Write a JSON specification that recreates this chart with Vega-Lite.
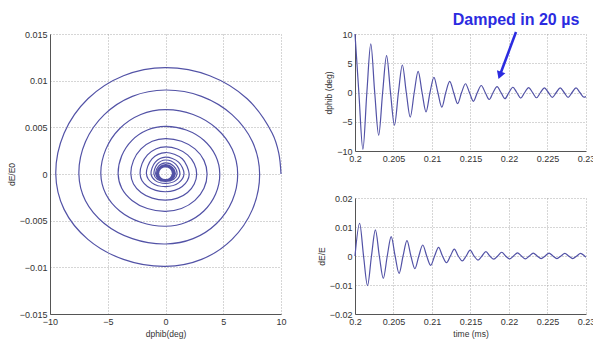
{
  "$schema": "https://vega.github.io/schema/vega-lite/v6.json",
  "padding": {"left": 7, "top": 12, "right": 5, "bottom": 5},
  "background": "white",
  "config": {
    "view": {"stroke": null},
    "axis": {
      "labelFont": "Liberation Sans", "labelFontSize": 9, "labelColor": "#333",
      "titleFont": "Liberation Sans", "titleFontSize": 8.5, "titleFontWeight": "normal", "titleColor": "#333",
      "domainColor": "#555", "ticks": false, "labelPadding": 3, "titlePadding": 3,
      "gridColor": "#999", "gridDash": [1, 2], "gridOpacity": 0.8,
      "labelFlush": false, "labelOverlap": false
    },
    "line": {"stroke": "#5252a6", "strokeWidth": 1.2}
  },
  "datasets": {
    "phase": [
      {"i":0,"x":10,"y":0},{"i":0.5,"x":9.81,"y":0.00222},{"i":1,"x":9.24,"y":0.00437},{"i":2,"x":7.07,"y":0.00806},{"i":3,"x":3.83,"y":0.01053},{"i":4,"x":0,"y":0.0114},
      {"i":5,"x":-3.64,"y":0.01053},{"i":6,"x":-6.72,"y":0.00806},{"i":7,"x":-8.78,"y":0.00437},{"i":8,"x":-9.5,"y":0},
      {"i":9,"x":-8.78,"y":-0.00379},{"i":10,"x":-6.72,"y":-0.007},{"i":11,"x":-3.64,"y":-0.00915},{"i":12,"x":0,"y":-0.0099},
      {"i":13,"x":3.12,"y":-0.00915},{"i":14,"x":5.76,"y":-0.007},{"i":15,"x":7.53,"y":-0.00379},{"i":16,"x":8.15,"y":0},
      {"i":17,"x":7.53,"y":0.00345},{"i":18,"x":5.76,"y":0.00636},{"i":19,"x":3.12,"y":0.00832},{"i":20,"x":0,"y":0.009},
      {"i":21,"x":-2.87,"y":0.00832},{"i":22,"x":-5.3,"y":0.00636},{"i":23,"x":-6.93,"y":0.00345},{"i":24,"x":-7.5,"y":0},
      {"i":25,"x":-6.93,"y":-0.00287},{"i":26,"x":-5.3,"y":-0.0053},{"i":27,"x":-2.87,"y":-0.00693},{"i":28,"x":0,"y":-0.0075},
      {"i":29,"x":2.39,"y":-0.00693},{"i":30,"x":4.42,"y":-0.0053},{"i":31,"x":5.78,"y":-0.00287},{"i":32,"x":6.25,"y":0},
      {"i":33,"x":5.78,"y":0.00264},{"i":34,"x":4.42,"y":0.00488},{"i":35,"x":2.39,"y":0.00638},{"i":36,"x":0,"y":0.0069},
      {"i":37,"x":-2.14,"y":0.00638},{"i":38,"x":-3.96,"y":0.00488},{"i":39,"x":-5.17,"y":0.00264},{"i":40,"x":-5.6,"y":0},
      {"i":41,"x":-5.17,"y":-0.00214},{"i":42,"x":-3.96,"y":-0.00396},{"i":43,"x":-2.14,"y":-0.00517},{"i":44,"x":0,"y":-0.0056},
      {"i":45,"x":1.8,"y":-0.00517},{"i":46,"x":3.32,"y":-0.00396},{"i":47,"x":4.34,"y":-0.00214},{"i":48,"x":4.7,"y":0},
      {"i":49,"x":4.34,"y":0.00195},{"i":50,"x":3.32,"y":0.00361},{"i":51,"x":1.8,"y":0.00471},{"i":52,"x":0,"y":0.0051},
      {"i":53,"x":-1.57,"y":0.00471},{"i":54,"x":-2.9,"y":0.00361},{"i":55,"x":-3.79,"y":0.00195},{"i":56,"x":-4.1,"y":0},
      {"i":57,"x":-3.79,"y":-0.00153},{"i":58,"x":-2.9,"y":-0.00283},{"i":59,"x":-1.57,"y":-0.0037},{"i":60,"x":0,"y":-0.004},
      {"i":61,"x":1.38,"y":-0.0037},{"i":62,"x":2.55,"y":-0.00283},{"i":63,"x":3.33,"y":-0.00153},{"i":64,"x":3.6,"y":0},
      {"i":65,"x":3.33,"y":0.00146},{"i":66,"x":2.55,"y":0.00269},{"i":67,"x":1.38,"y":0.00351},{"i":68,"x":0,"y":0.0038},
      {"i":69,"x":-1.15,"y":0.00351},{"i":70,"x":-2.12,"y":0.00269},{"i":71,"x":-2.77,"y":0.00146},{"i":72,"x":-3.0,"y":0},
      {"i":73,"x":-2.77,"y":-0.00107},{"i":74,"x":-2.12,"y":-0.00198},{"i":75,"x":-1.15,"y":-0.00259},{"i":76,"x":0,"y":-0.0028},
      {"i":77,"x":1.03,"y":-0.00259},{"i":78,"x":1.91,"y":-0.00198},{"i":79,"x":2.49,"y":-0.00107},{"i":80,"x":2.7,"y":0},
      {"i":81,"x":2.49,"y":0.00111},{"i":82,"x":1.91,"y":0.00205},{"i":83,"x":1.03,"y":0.00268},{"i":84,"x":0,"y":0.0029},
      {"i":85,"x":-0.84,"y":0.00268},{"i":86,"x":-1.56,"y":0.00205},{"i":87,"x":-2.03,"y":0.00111},{"i":88,"x":-2.2,"y":0},
      {"i":89,"x":-2.03,"y":-0.00073},{"i":90,"x":-1.56,"y":-0.00134},{"i":91,"x":-0.84,"y":-0.00176},{"i":92,"x":0,"y":-0.0019},
      {"i":93,"x":0.79,"y":-0.00176},{"i":94,"x":1.45,"y":-0.00134},{"i":95,"x":1.89,"y":-0.00073},{"i":96,"x":2.05,"y":0},
      {"i":97,"x":1.45,"y":0.00163},{"i":98,"x":0,"y":0.0023},{"i":99,"x":-1.17,"y":0.00163},{"i":100,"x":-1.65,"y":0},{"i":101,"x":-1.17,"y":-0.00095},{"i":102,"x":0,"y":-0.00135},{"i":103,"x":1.13,"y":-0.00095},
      {"i":104,"x":1.6,"y":0},{"i":105,"x":1.13,"y":0.00127},{"i":106,"x":0,"y":0.0018},{"i":107,"x":-0.88,"y":0.00127},{"i":108,"x":-1.25,"y":0},{"i":109,"x":-0.88,"y":-0.00071},{"i":110,"x":0,"y":-0.001},{"i":111,"x":0.88,"y":-0.00071},
      {"i":112,"x":1.25,"y":0},{"i":113,"x":0.88,"y":0.00106},{"i":114,"x":0,"y":0.0015},{"i":115,"x":-0.71,"y":0.00106},{"i":116,"x":-1.0,"y":0},{"i":117,"x":-0.71,"y":-0.00057},{"i":118,"x":0,"y":-0.0008},{"i":119,"x":0.71,"y":-0.00057},
      {"i":120,"x":1.0,"y":0},{"i":121,"x":0.71,"y":0.00085},{"i":122,"x":0,"y":0.0012},{"i":123,"x":-0.6,"y":0.00085},{"i":124,"x":-0.85,"y":0},{"i":125,"x":-0.6,"y":-0.0005},{"i":126,"x":0,"y":-0.0007},{"i":127,"x":0.6,"y":-0.0005},
      {"i":128,"x":0.85,"y":0},{"i":129,"x":0.6,"y":0.00071},{"i":130,"x":0,"y":0.001},{"i":131,"x":-0.53,"y":0.00071},{"i":132,"x":-0.75,"y":0},{"i":133,"x":-0.53,"y":-0.00046},{"i":134,"x":0,"y":-0.00065},{"i":135,"x":0.53,"y":-0.00046},
      {"i":136,"x":0.75,"y":0},{"i":137,"x":0.53,"y":0.00064},{"i":138,"x":0,"y":0.0009},{"i":139,"x":-0.5,"y":0.00064},{"i":140,"x":-0.7,"y":0},{"i":141,"x":-0.5,"y":-0.00042},{"i":142,"x":0,"y":-0.0006},{"i":143,"x":0.5,"y":-0.00042},
      {"i":144,"x":0.7,"y":0},{"i":145,"x":0.5,"y":0.0006},{"i":146,"x":0,"y":0.00085},{"i":147,"x":-0.46,"y":0.0006},{"i":148,"x":-0.65,"y":0},{"i":149,"x":-0.46,"y":-0.00042},{"i":150,"x":0,"y":-0.0006},{"i":151,"x":0.46,"y":-0.00042},
      {"i":152,"x":0.65,"y":0},{"i":153,"x":0.46,"y":0.00057},{"i":154,"x":0,"y":0.0008},{"i":155,"x":-0.42,"y":0.00057},{"i":156,"x":-0.6,"y":0},{"i":157,"x":-0.42,"y":-0.00042},{"i":158,"x":0,"y":-0.0006},{"i":159,"x":0.42,"y":-0.00042},
      {"i":160,"x":0.6,"y":0},{"i":161,"x":0.42,"y":0.00057},{"i":162,"x":0,"y":0.0008},{"i":163,"x":-0.42,"y":0.00057},{"i":164,"x":-0.6,"y":0},{"i":165,"x":-0.42,"y":-0.00042},{"i":166,"x":0,"y":-0.0006},{"i":167,"x":0.42,"y":-0.00042},
      {"i":168,"x":0.6,"y":0}
    ],
    "dphi": [
      {"t":0.2,"v":10},{"t":0.2005,"v":0},{"t":0.201025,"v":-9.7},{"t":0.20154,"v":0},{"t":0.20205,"v":8.3},{"t":0.20256,"v":0},{"t":0.203075,"v":-7.3},{"t":0.20359,"v":0},
      {"t":0.2041,"v":6.3},{"t":0.20461,"v":0},{"t":0.205125,"v":-5.6},{"t":0.20564,"v":0},{"t":0.20615,"v":4.7},{"t":0.20666,"v":0},{"t":0.207175,"v":-4.2},{"t":0.20769,"v":0},
      {"t":0.2082,"v":3.6},{"t":0.20871,"v":0},{"t":0.209225,"v":-3.3},{"t":0.20974,"v":0},{"t":0.21025,"v":2.6},{"t":0.21076,"v":0},{"t":0.211275,"v":-2.5},{"t":0.21179,"v":0},
      {"t":0.2123,"v":1.9},{"t":0.21281,"v":0},{"t":0.213325,"v":-1.9},{"t":0.21384,"v":0},{"t":0.21435,"v":1.5},{"t":0.21486,"v":0},{"t":0.215375,"v":-1.5},{"t":0.21589,"v":0},
      {"t":0.2164,"v":1.2},{"t":0.21691,"v":0},{"t":0.217425,"v":-1.2},{"t":0.21794,"v":0},{"t":0.21845,"v":1.0},{"t":0.21896,"v":0},{"t":0.219475,"v":-1.05},{"t":0.21999,"v":0},
      {"t":0.2205,"v":0.9},{"t":0.22101,"v":0},{"t":0.221525,"v":-0.95},{"t":0.22204,"v":0},{"t":0.22255,"v":0.85},{"t":0.22306,"v":0},{"t":0.223575,"v":-0.9},{"t":0.22409,"v":0},
      {"t":0.2246,"v":0.8},{"t":0.22511,"v":0},{"t":0.225625,"v":-0.85},{"t":0.22614,"v":0},{"t":0.22665,"v":0.8},{"t":0.22716,"v":0},{"t":0.227675,"v":-0.85},{"t":0.22819,"v":0},
      {"t":0.2287,"v":0.8},{"t":0.22921,"v":0},{"t":0.229725,"v":-0.8},{"t":0.23,"v":-0.7}
    ],
    "dE": [
      {"t":0.2,"v":0},{"t":0.2006,"v":0.0113},{"t":0.20111,"v":0},{"t":0.201625,"v":-0.0102},{"t":0.20214,"v":0},{"t":0.20265,"v":0.009},{"t":0.20316,"v":0},{"t":0.203675,"v":-0.0077},
      {"t":0.20419,"v":0},{"t":0.2047,"v":0.0067},{"t":0.20521,"v":0},{"t":0.205725,"v":-0.006},{"t":0.20624,"v":0},{"t":0.20675,"v":0.0053},{"t":0.20726,"v":0},{"t":0.207775,"v":-0.0044},
      {"t":0.20829,"v":0},{"t":0.2088,"v":0.0038},{"t":0.20931,"v":0},{"t":0.209825,"v":-0.0032},{"t":0.21034,"v":0},{"t":0.21085,"v":0.003},{"t":0.21136,"v":0},{"t":0.211875,"v":-0.0023},
      {"t":0.21239,"v":0},{"t":0.2129,"v":0.0024},{"t":0.21341,"v":0},{"t":0.213925,"v":-0.0017},{"t":0.21444,"v":0},{"t":0.21495,"v":0.002},{"t":0.21546,"v":0},{"t":0.215975,"v":-0.0014},
      {"t":0.21649,"v":0},{"t":0.217,"v":0.0015},{"t":0.21751,"v":0},{"t":0.218025,"v":-0.0011},{"t":0.21854,"v":0},{"t":0.21905,"v":0.0013},{"t":0.21956,"v":0},{"t":0.220075,"v":-0.001},
      {"t":0.22059,"v":0},{"t":0.2211,"v":0.0011},{"t":0.22161,"v":0},{"t":0.222125,"v":-0.001},{"t":0.22264,"v":0},{"t":0.22315,"v":0.001},{"t":0.22366,"v":0},{"t":0.224175,"v":-0.0009},
      {"t":0.22469,"v":0},{"t":0.2252,"v":0.001},{"t":0.22571,"v":0},{"t":0.226225,"v":-0.0009},{"t":0.22674,"v":0},{"t":0.22725,"v":0.0009},{"t":0.22776,"v":0},{"t":0.228275,"v":-0.0009},
      {"t":0.22879,"v":0},{"t":0.2293,"v":0.0009},{"t":0.22981,"v":0},{"t":0.23,"v":-0.0004}
    ],
    "note": [
      {"t0":0.22091,"v0":10.34,"t1":0.21881,"v1":2.94,"tl":0.22091,"vl":12.39,"label":"Damped in 20 µs"}
    ]
  },
  "bounds": "flush",
  "spacing": 74,
  "hconcat": [
    {
      "width": 231, "height": 280,
      "data": {"name": "phase"},
      "mark": {"type": "line", "interpolate": "catmull-rom"},
      "encoding": {
        "x": {"field": "x", "type": "quantitative", "title": "dphib(deg)",
              "scale": {"domain": [-10, 10], "nice": false, "zero": false},
              "axis": {"values": [-10, -5, 0, 5, 10]}},
        "y": {"field": "y", "type": "quantitative", "title": "dE/E0",
              "scale": {"domain": [-0.015, 0.015], "nice": false},
              "axis": {"values": [-0.015, -0.01, -0.005, 0, 0.005, 0.01, 0.015], "format": ".4~g"}},
        "order": {"field": "i", "type": "quantitative"}
      }
    },
    {
      "bounds": "flush",
      "spacing": 47,
      "vconcat": [
        {
          "width": 231, "height": 117,
          "layer": [
            {
              "data": {"name": "dphi"},
              "mark": {"type": "line", "interpolate": "monotone"},
              "encoding": {
                "x": {"field": "t", "type": "quantitative", "title": null,
                      "scale": {"domain": [0.2, 0.23], "nice": false, "zero": false},
                      "axis": {"values": [0.2, 0.205, 0.21, 0.215, 0.22, 0.225, 0.23], "format": ".4~g"}},
                "y": {"field": "v", "type": "quantitative", "title": "dphib (deg)",
                      "scale": {"domain": [-10, 10], "nice": false},
                      "axis": {"values": [-10, -5, 0, 5, 10]}}
              }
            },
            {
              "data": {"name": "note"},
              "mark": {"type": "rule", "stroke": "#2b2be0", "strokeWidth": 2.5},
              "encoding": {
                "x": {"field": "t0", "type": "quantitative", "title": null,
                      "scale": {"domain": [0.2, 0.23], "nice": false, "zero": false},
                      "axis": {"values": [0.2, 0.205, 0.21, 0.215, 0.22, 0.225, 0.23], "format": ".4~g"}},
                "y": {"field": "v0", "type": "quantitative", "title": "dphib (deg)",
                      "scale": {"domain": [-10, 10], "nice": false},
                      "axis": {"values": [-10, -5, 0, 5, 10]}},
                "x2": {"field": "t1"},
                "y2": {"field": "v1"}
              }
            },
            {
              "data": {"name": "note"},
              "mark": {"type": "point", "shape": "triangle-up", "filled": true, "color": "#2b2be0", "size": 80, "angle": 200, "opacity": 1},
              "encoding": {
                "x": {"field": "t1", "type": "quantitative", "title": null,
                      "scale": {"domain": [0.2, 0.23], "nice": false, "zero": false},
                      "axis": {"values": [0.2, 0.205, 0.21, 0.215, 0.22, 0.225, 0.23], "format": ".4~g"}},
                "y": {"field": "v1", "type": "quantitative", "title": "dphib (deg)",
                      "scale": {"domain": [-10, 10], "nice": false},
                      "axis": {"values": [-10, -5, 0, 5, 10]}}
              }
            },
            {
              "data": {"name": "note"},
              "mark": {"type": "text", "font": "Liberation Sans", "fontSize": 16, "fontWeight": "bold", "color": "#2b2be0", "align": "center", "baseline": "middle"},
              "encoding": {
                "x": {"field": "tl", "type": "quantitative", "title": null,
                      "scale": {"domain": [0.2, 0.23], "nice": false, "zero": false},
                      "axis": {"values": [0.2, 0.205, 0.21, 0.215, 0.22, 0.225, 0.23], "format": ".4~g"}},
                "y": {"field": "vl", "type": "quantitative", "title": "dphib (deg)",
                      "scale": {"domain": [-10, 10], "nice": false},
                      "axis": {"values": [-10, -5, 0, 5, 10]}},
                "text": {"field": "label"}
              }
            }
          ]
        },
        {
          "width": 231, "height": 116,
          "data": {"name": "dE"},
          "mark": {"type": "line", "interpolate": "monotone"},
          "encoding": {
            "x": {"field": "t", "type": "quantitative", "title": "time (ms)",
                  "scale": {"domain": [0.2, 0.23], "nice": false, "zero": false},
                  "axis": {"values": [0.2, 0.205, 0.21, 0.215, 0.22, 0.225, 0.23], "format": ".4~g"}},
            "y": {"field": "v", "type": "quantitative", "title": "dE/E",
                  "scale": {"domain": [-0.02, 0.02], "nice": false},
                  "axis": {"values": [-0.02, -0.01, 0, 0.01, 0.02], "format": ".4~g"}}
          }
        }
      ]
    }
  ]
}
